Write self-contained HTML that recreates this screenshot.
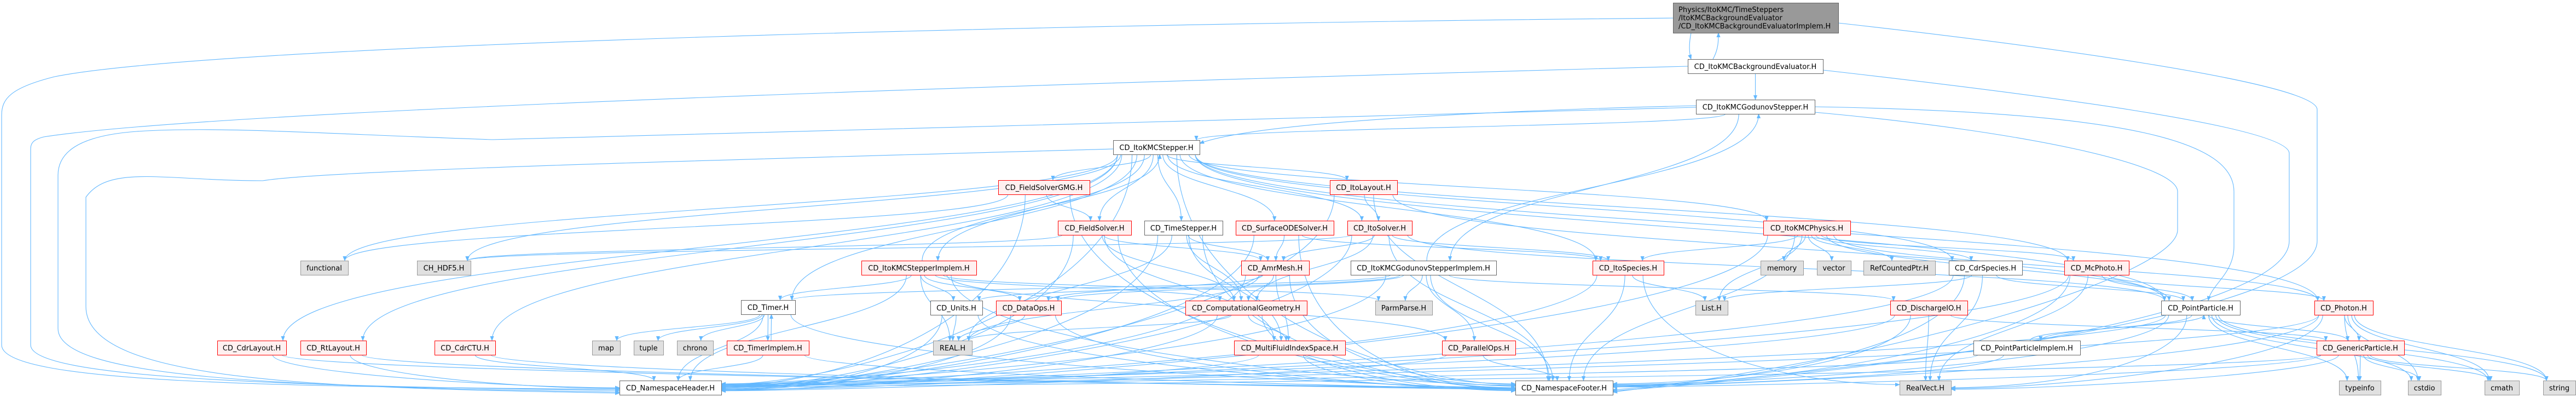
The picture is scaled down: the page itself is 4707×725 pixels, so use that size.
<!DOCTYPE html>
<html><head><meta charset="utf-8">
<style>
html,body{margin:0;padding:0;background:#fff;}
svg{display:block;}
text{font-family:"DejaVu Sans","Liberation Sans",sans-serif;font-size:13px;fill:#000;}
</style></head>
<body>
<svg id="g" xmlns="http://www.w3.org/2000/svg" width="4707" height="725" viewBox="0 0 4707 725">
<defs>
<marker id="a" viewBox="0 0 10 10" refX="9" refY="5" markerWidth="9" markerHeight="9" markerUnits="userSpaceOnUse" orient="auto">
<path d="M0,1 L10,5 L0,9 z" fill="#63b8ff"/>
</marker>
</defs>
<g id="edges" fill="none" stroke="#63b8ff" stroke-width="1.1"></g>
<g id="nodes"></g>
</svg>
<script>
var N={
bge:[3084,108,247,'w','CD_ItoKMCBackgroundEvaluator.H'],
god:[3099,182,217,'w','CD_ItoKMCGodunovStepper.H'],
stp:[2034,256,158,'w','CD_ItoKMCStepper.H'],
gmg:[1824,329,167,'r','CD_FieldSolverGMG.H'],
lay:[2430,329,123,'r','CD_ItoLayout.H'],
fs:[1933,403,134,'r','CD_FieldSolver.H'],
ts:[2091,403,143,'w','CD_TimeStepper.H'],
ode:[2258,403,179,'r','CD_SurfaceODESolver.H'],
its:[2462,403,118,'r','CD_ItoSolver.H'],
phy:[3222,403,159,'r','CD_ItoKMCPhysics.H'],
fun:[549,476,87,'g','functional'],
hdf:[762,476,98,'g','CH_HDF5.H'],
sim:[1574,476,210,'r','CD_ItoKMCStepperImplem.H'],
amr:[2268,476,124,'r','CD_AmrMesh.H'],
gim:[2468,476,266,'w','CD_ItoKMCGodunovStepperImplem.H'],
spc:[2910,476,130,'r','CD_ItoSpecies.H'],
mem:[3217,476,78,'g','memory'],
vec:[3320,476,62,'g','vector'],
rcp:[3405,476,131,'g','RefCountedPtr.H'],
cdr:[3561,476,134,'w','CD_CdrSpecies.H'],
mcp:[3772,476,118,'r','CD_McPhoto.H'],
tim:[1354,548,99,'w','CD_Timer.H'],
uni:[1700,549,95,'w','CD_Units.H'],
dat:[1820,549,119,'r','CD_DataOps.H'],
cg:[2166,549,222,'r','CD_ComputationalGeometry.H'],
pp:[2513,549,104,'g','ParmParse.H'],
lst:[3098,549,59,'g','List.H'],
dio:[3454,549,141,'r','CD_DischargeIO.H'],
ptp:[3949,549,144,'w','CD_PointParticle.H'],
pho:[4229,549,107,'r','CD_Photon.H'],
cl:[397,622,126,'r','CD_CdrLayout.H'],
rl:[549,622,120,'r','CD_RtLayout.H'],
ctu:[794,622,111,'r','CD_CdrCTU.H'],
map:[1082,622,51,'g','map'],
tup:[1158,622,54,'g','tuple'],
chr:[1237,622,66,'g','chrono'],
tmi:[1328,622,150,'r','CD_TimerImplem.H'],
real:[1705,622,71,'g','REAL.H'],
mfi:[2255,622,203,'r','CD_MultiFluidIndexSpace.H'],
par:[2635,622,134,'r','CD_ParallelOps.H'],
ppi:[3606,622,195,'w','CD_PointParticleImplem.H'],
gp:[4233,622,160,'r','CD_GenericParticle.H'],
nsh:[1132,695,186,'w','CD_NamespaceHeader.H'],
nsf:[2769,695,178,'w','CD_NamespaceFooter.H'],
rv:[3471,695,94,'g','RealVect.H'],
typ:[4274,695,76,'g','typeinfo'],
cst:[4400,695,60,'g','cstdio'],
cm:[4540,695,63,'g','cmath'],
str:[4647,695,59,'g','string']
};
var H=26;
var E={
bge:['god'],
god:['stp','gim'],
stp:['gmg','fs','ts','ode','its','lay','phy','sim','cl','rl','ctu','fun','hdf','tim','mcp','ptp','pho','nsh','nsf','spc','cdr'],
sim:['stp','uni','dat','pp','tim','nsh','nsf','par','real','cg'],
gmg:['fs','nsh','nsf','fun'],
lay:['its','nsh','nsf','ptp'],
fs:['amr','cg','nsh','nsf','mfi','hdf'],
ts:['amr','cg','mfi','nsh','nsf','real'],
ode:['amr','nsh','nsf','spc'],
its:['amr','cg','spc','nsh','nsf','ptp','hdf'],
phy:['mem','vec','rcp','cdr','spc','lst','ptp','pho','mcp','nsh','nsf'],
amr:['cg','mfi','nsh','nsf','dat','real'],
gim:['god','pp','par','nsh','nsf','dio','tim','uni','dat'],
spc:['lst','nsh','nsf','rv'],
cdr:['lst','rv','nsh','nsf','ptp'],
mcp:['ptp','pho','rv','nsh','nsf'],
tim:['map','tup','chr','tmi','nsh','nsf'],
tmi:['tim','nsh','nsf'],
uni:['real','nsh','nsf'],
dat:['nsh','nsf','real'],
cg:['mfi','nsh','nsf','real'],
dio:['rv','nsh','nsf','gp'],
ptp:['ppi','gp','typ','cst','cm','str','nsh','nsf','rv'],
ppi:['ptp','nsh','nsf'],
pho:['gp','typ','cst','cm','str','nsh','nsf','rv'],
gp:['typ','cst','cm','str','nsh','nsf','rv'],
cl:['nsh','nsf'],rl:['nsh','nsf'],ctu:['nsh','nsf'],
mfi:['nsh','nsf'],par:['nsh','nsf']
};
var NS='http://www.w3.org/2000/svg';
var eg=document.getElementById('edges'),ng=document.getElementById('nodes');
function path(d){var p=document.createElementNS(NS,'path');p.setAttribute('d',d);p.setAttribute('marker-end','url(#a)');eg.appendChild(p);}
var cnt={};
for(var s in E){E[s].forEach(function(t,i){
 var a=N[s],b=N[t];
 var acx=a[0]+a[2]/2,bcx=b[0]+b[2]/2;
 var k=(cnt[t]=(cnt[t]||0)+1);
 if(b[1]>a[1]){
  var sx=acx+Math.max(-a[2]/2+8,Math.min(a[2]/2-8,(bcx-acx)*0.05));
  var sy=a[1]+H, ty=b[1], tx;
  var dy=ty-sy;
  if(Math.abs(bcx-acx)>500 && (t=='nsh'||t=='nsf'||t=='rv')){
   var left=bcx>acx;
   tx=left?b[0]:b[0]+b[2];
   ty=b[1]+6+(k%10)*1.4;
   var mx=left?tx-200:tx+200;
   path('M'+sx+','+sy+' C'+sx+','+(sy+dy*0.7)+' '+mx+','+ty+' '+tx+','+ty);
  } else {
   tx=bcx+Math.max(-b[2]/2+6,Math.min(b[2]/2-6,(acx-bcx)*0.08));
   path('M'+sx+','+sy+' C'+sx+','+(sy+dy*0.5)+' '+tx+','+(ty-dy*0.5)+' '+tx+','+ty);
  }
 } else if(b[1]<a[1]){
  var sx=acx+6, sy=a[1], tx=bcx+6, ty=b[1]+H, dy=sy-ty;
  path('M'+sx+','+sy+' C'+sx+','+(sy-dy*0.5)+' '+tx+','+(ty+dy*0.5)+' '+tx+','+ty);
 } else {
  var sx=acx>bcx?a[0]:a[0]+a[2], tx=acx>bcx?b[0]+b[2]:b[0];
  path('M'+sx+','+(a[1]+13)+' C'+((sx+tx)/2)+','+(a[1]+13)+' '+((sx+tx)/2)+','+(b[1]+13)+' '+tx+','+(b[1]+13));
 }
});}
path('M3057,33 C2000,42 400,80 100,140 C20,160 3,180 3,210 L3,630 C3,700 500,706 1132,711');
path('M3084,121 C2000,150 400,200 80,250 C60,255 56,262 56,272 L56,630 C56,690 500,705 1132,713');
path('M3099,196 C2500,210 1800,230 900,255 C600,245 400,230 250,240 C140,248 106,280 106,320 L106,600 C106,690 500,706 1132,716');
path('M2034,272 C1400,290 600,310 480,330 C300,330 200,300 157,360 L157,560 C157,700 600,708 1132,718');
path('M3359,42 C3700,80 4234,150 4234,200 L4234,440 C4234,560 3600,660 2947,712');
path('M3331,128 C3700,170 4183,230 4183,280 L4183,440 C4183,560 3600,665 2947,714');
path('M3316,195 C3900,205 4082,260 4082,350 L4082,450 C4082,500 4040,520 4035,549');
path('M3316,205 C3700,240 3979,300 3979,350 L3979,420 C3979,500 3500,650 2947,716');
path('M3099,193 C2800,200 2300,220 2192,262');
path('M3130,108 C3140,90 3140,75 3140,60');
path('M3090,60 C3086,80 3086,95 3090,108');
function box(x,y,w,h,f,s){var r=document.createElementNS(NS,'rect');r.setAttribute('x',x+0.5);r.setAttribute('y',y+0.5);r.setAttribute('width',w);r.setAttribute('height',h);r.setAttribute('fill',f);r.setAttribute('stroke',s);r.setAttribute('stroke-width','1');ng.appendChild(r);}
function txt(x,y,str,anchor){var t=document.createElementNS(NS,'text');t.setAttribute('x',x);t.setAttribute('y',y);if(anchor)t.setAttribute('text-anchor',anchor);t.textContent=str;ng.appendChild(t);}
var C={w:['#ffffff','#666666'],r:['#fff0f0','#ff0000'],g:['#e0e0e0','#999999']};
for(var k in N){var n=N[k];box(n[0],n[1],n[2],H,C[n[3]][0],C[n[3]][1]);txt(n[0]+n[2]/2,n[1]+18,n[4],'middle');}
box(3057,5,302,55,'#999999','#666666');
txt(3067,22,'Physics/ItoKMC/TimeSteppers');
txt(3067,37,'/ItoKMCBackgroundEvaluator');
txt(3067,52,'/CD_ItoKMCBackgroundEvaluatorImplem.H');
</script>
</body></html>
